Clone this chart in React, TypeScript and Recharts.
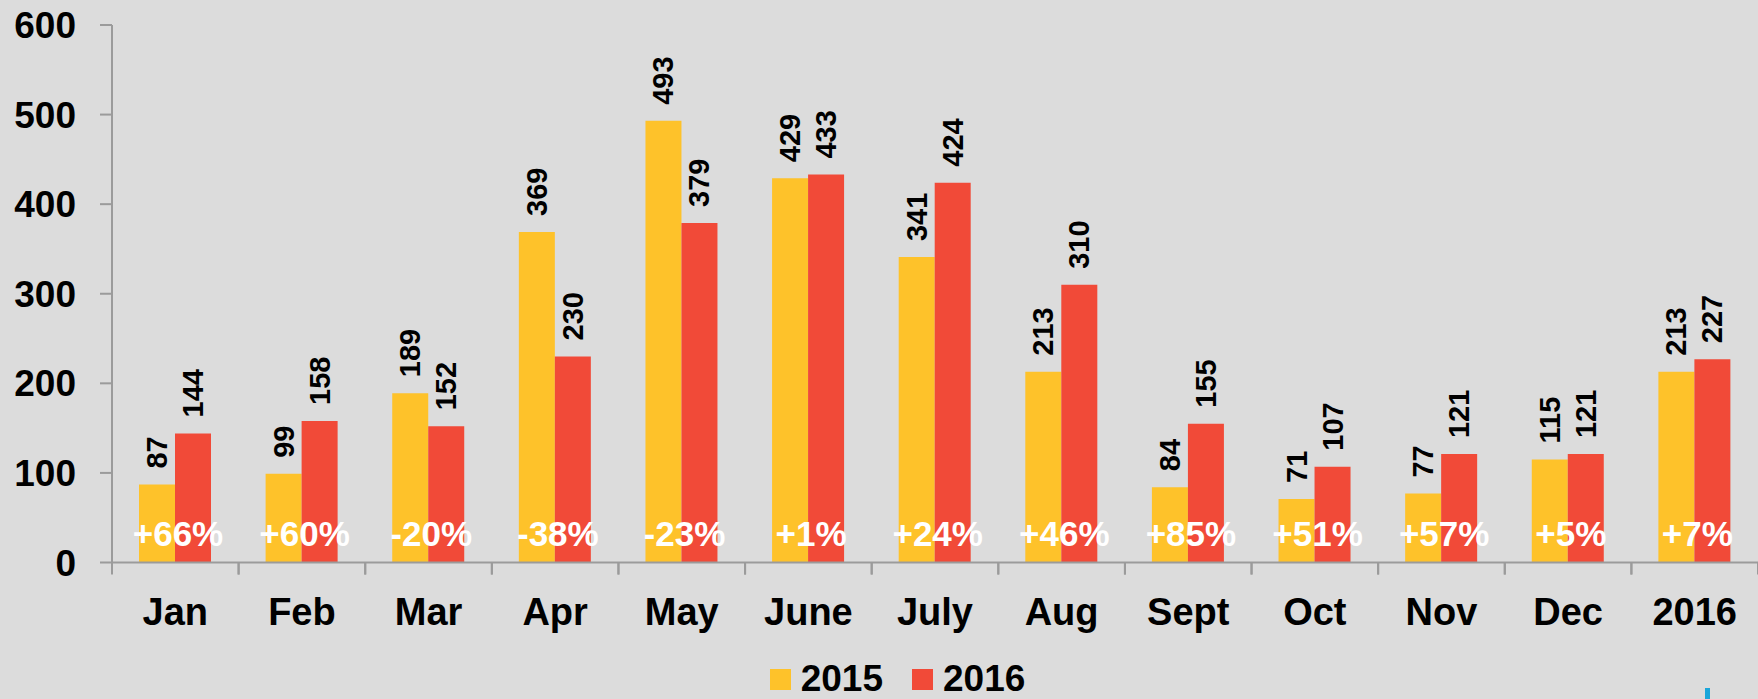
import { BarChart, Bar, XAxis, YAxis, Legend, LabelList } from 'recharts';

const months = ['Jan', 'Feb', 'Mar', 'Apr', 'May', 'June', 'July', 'Aug', 'Sept', 'Oct', 'Nov', 'Dec', '2016'];
const values2015 = [87, 99, 189, 369, 493, 429, 341, 213, 84, 71, 77, 115, 213];
const values2016 = [144, 158, 152, 230, 379, 433, 424, 310, 155, 107, 121, 121, 227];
const changes = ['+66%', '+60%', '-20%', '-38%', '-23%', '+1%', '+24%', '+46%', '+85%', '+51%', '+57%', '+5%', '+7%'];
const yTicks = [0, 100, 200, 300, 400, 500, 600];

const data = months.map((m, i) => ({
  month: m,
  y2015: values2015[i],
  y2016: values2016[i],
  change: changes[i],
}));

const WIDTH = 1758;
const HEIGHT = 699;
const Y_AXIS_W = 112;
const TICK_SIZE = 12;
const TICK_MARGIN = 24;
const BAND = (WIDTH - Y_AXIS_W) / months.length;
const FONT = '"Liberation Sans", Arial, sans-serif';
const AXIS_COLOR = '#9b9b9b';
const YELLOW = '#FEC22A';
const RED = '#F14A38';

function MonthTick(props: any) {
  const { x, y, payload } = props;
  const top = y - TICK_MARGIN - TICK_SIZE;
  const bottom = y - TICK_MARGIN;
  return (
    <g>
      <line x1={x - BAND / 2} x2={x - BAND / 2} y1={top} y2={bottom} stroke={AXIS_COLOR} strokeWidth={2} />
      <line x1={x + BAND / 2} x2={x + BAND / 2} y1={top} y2={bottom} stroke={AXIS_COLOR} strokeWidth={2} />
      <text x={x} y={y} dy="0.71em" textAnchor="middle" fill="#000" fontSize={38} fontWeight="bold" fontFamily={FONT}>
        {payload.value}
      </text>
    </g>
  );
}

function ValueLabel(props: any) {
  const { x, y, width, value } = props;
  const cx = Number(x) + Number(width) / 2;
  const ty = Number(y) - 16;
  return (
    <text
      x={cx}
      y={ty}
      transform={`rotate(-90 ${cx} ${ty})`}
      textAnchor="start"
      dominantBaseline="central"
      fill="#000"
      fontSize={29}
      fontWeight="bold"
      fontFamily={FONT}
    >
      {value}
    </text>
  );
}

function ChangeLabel(props: any) {
  const { x, y, height, value } = props;
  const base = Number(y) + Number(height) - 17;
  return (
    <text x={Number(x) + 3} y={base} textAnchor="middle" fill="#fff" fontSize={35} fontWeight="bold" fontFamily={FONT}>
      {value}
    </text>
  );
}

function LegendBox() {
  const items = [
    { name: '2015', color: YELLOW },
    { name: '2016', color: RED },
  ];
  return (
    <div
      style={{
        height: 40,
        display: 'flex',
        justifyContent: 'center',
        alignItems: 'center',
        paddingLeft: 37,
        fontFamily: FONT,
        fontWeight: 'bold',
        fontSize: 37,
        color: '#000',
      }}
    >
      {items.map((it, i) => (
        <div key={it.name} style={{ display: 'flex', alignItems: 'center', marginLeft: i ? 29 : 0 }}>
          <span style={{ width: 21, height: 21, background: it.color, marginRight: 10, display: 'inline-block' }} />
          <span style={{ lineHeight: '40px' }}>{it.name}</span>
        </div>
      ))}
    </div>
  );
}

export default function App() {
  return (
    <div
      style={{
        position: 'absolute',
        top: 0,
        left: 0,
        width: WIDTH,
        height: HEIGHT,
        background: '#DCDCDC',
        overflow: 'hidden',
      }}
    >
      <BarChart
        width={WIDTH}
        height={HEIGHT}
        data={data}
        margin={{ top: 25, right: 0, left: 0, bottom: 0 }}
        barGap={0}
      >
        <XAxis
          dataKey="month"
          height={96.5}
          tickLine={false}
          tickSize={TICK_SIZE}
          tickMargin={TICK_MARGIN}
          axisLine={{ stroke: AXIS_COLOR, strokeWidth: 2 }}
          tick={<MonthTick />}
          interval={0}
        />
        <YAxis
          type="number"
          domain={[0, 600]}
          ticks={yTicks}
          width={Y_AXIS_W}
          tickSize={TICK_SIZE}
          tickMargin={TICK_MARGIN}
          axisLine={{ stroke: AXIS_COLOR, strokeWidth: 2 }}
          tickLine={{ stroke: AXIS_COLOR, strokeWidth: 2 }}
          tick={{ fill: '#000', fontSize: 37, fontWeight: 'bold', fontFamily: FONT }}
        />
        <Legend verticalAlign="bottom" height={40} content={<LegendBox />} />
        <Bar dataKey="y2015" name="2015" fill={YELLOW} barSize={36} isAnimationActive={false}>
          <LabelList dataKey="y2015" content={<ValueLabel />} />
        </Bar>
        <Bar dataKey="y2016" name="2016" fill={RED} barSize={36} isAnimationActive={false}>
          <LabelList dataKey="y2016" content={<ValueLabel />} />
          <LabelList dataKey="change" content={<ChangeLabel />} />
        </Bar>
      </BarChart>
      <div style={{ position: 'absolute', left: 1705, top: 688, width: 5, height: 11, background: '#1BA6DA' }} />
    </div>
  );
}
